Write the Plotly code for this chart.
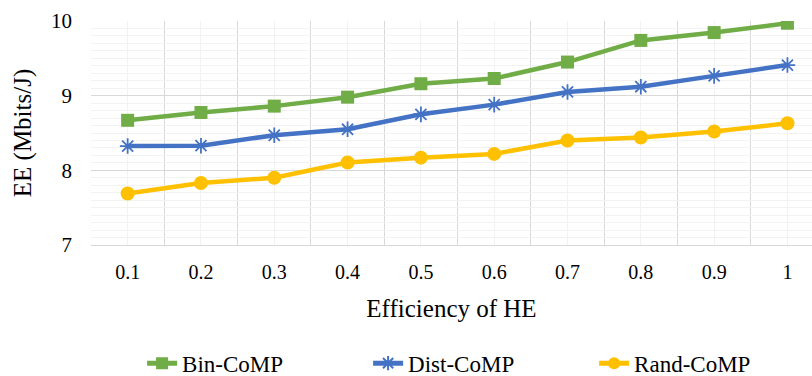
import plotly.graph_objects as go

# Efficiency of the harvesting element (x categories)
efficiency = [0.1, 0.2, 0.3, 0.4, 0.5, 0.6, 0.7, 0.8, 0.9, 1.0]
tick_labels = ["0.1", "0.2", "0.3", "0.4", "0.5", "0.6", "0.7", "0.8", "0.9", "1"]

# Energy efficiency (Mbits/J) for each scheme
bin_comp = [8.67, 8.775, 8.86, 8.98, 9.16, 9.23, 9.45, 9.74, 9.845, 9.97]
dist_comp = [8.325, 8.33, 8.47, 8.55, 8.75, 8.88, 9.05, 9.12, 9.265, 9.41]
rand_comp = [7.69, 7.83, 7.90, 8.105, 8.17, 8.22, 8.40, 8.44, 8.52, 8.63]

FONT = "'Liberation Serif', 'Times New Roman', serif"

series = [
    ("Bin-CoMP", bin_comp, "#70AD47", dict(symbol="square", size=13)),
    ("Dist-CoMP", dist_comp, "#4472C4",
     dict(symbol="asterisk-open", size=13, line=dict(width=1.8, color="#4472C4"))),
    ("Rand-CoMP", rand_comp, "#FFC000", dict(symbol="circle", size=14)),
]

fig = go.Figure()
for name, vals, color, marker in series:
    fig.add_trace(go.Scatter(
        x=efficiency, y=vals, name=name, mode="lines+markers",
        line=dict(color=color, width=4.5),
        marker=dict(color=color, **marker),
    ))

fig.update_layout(
    width=812, height=376,
    margin=dict(l=91, r=0, t=21, b=131),
    paper_bgcolor="white", plot_bgcolor="white",
    font=dict(family=FONT, color="#000000", size=20),
    showlegend=True,
    legend=dict(
        orientation="h", xref="container", yref="container",
        x=0.175, y=0.034, xanchor="left", yanchor="middle",
        font=dict(family=FONT, size=23, color="#000000"),
        entrywidth=181, entrywidthmode="pixels",
        itemsizing="constant",
    ),
    xaxis=dict(
        range=[0.05, 1.0335],
        tickmode="array", tickvals=efficiency, ticktext=tick_labels,
        showgrid=True, gridcolor="#F2F2F2", gridwidth=1,
        minor=dict(tick0=0.05, dtick=0.1, showgrid=True,
                   gridcolor="#D9D9D9", gridwidth=1),
        zeroline=False, showline=True, linecolor="#D9D9D9", linewidth=1,
        ticks="", ticklabelstandoff=9,
        tickfont=dict(family=FONT, size=20),
        title=dict(text="Efficiency of HE", standoff=17,
                   font=dict(family=FONT, size=25)),
    ),
    yaxis=dict(
        range=[7, 10], tickmode="linear", tick0=7, dtick=1,
        showgrid=True, gridcolor="#D9D9D9", gridwidth=1,
        minor=dict(tick0=7, dtick=0.1, showgrid=True,
                   gridcolor="#F2F2F2", gridwidth=1),
        zeroline=False, showline=False,
        ticks="", ticklabelstandoff=18,
        tickfont=dict(family=FONT, size=21),
        title=dict(text="EE (Mbits/J)", standoff=12,
                   font=dict(family=FONT, size=25)),
    ),
)

fig.write_html("out.html")
